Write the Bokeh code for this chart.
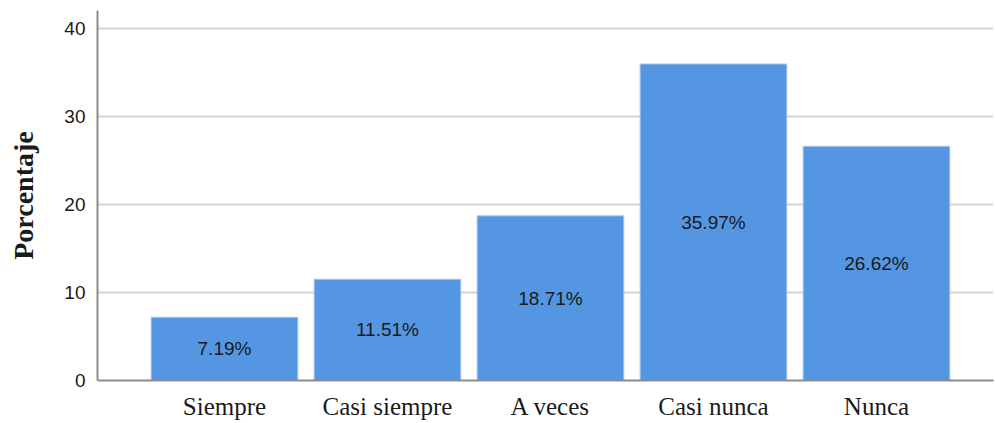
from bokeh.plotting import figure
from bokeh.models import Range1d, FixedTicker, ColumnDataSource, LabelSet
from bokeh.core.properties import value
from bokeh.embed import file_html
from bokeh.resources import INLINE

categories = ["Siempre", "Casi siempre", "A veces", "Casi nunca", "Nunca"]
values = [7.19, 11.51, 18.71, 35.97, 26.62]
labels = ["7.19%", "11.51%", "18.71%", "35.97%", "26.62%"]
y_ticks = [0, 10, 20, 30, 40]

xs = list(range(len(categories)))
src = ColumnDataSource(dict(x=xs, top=values, mid=[v / 2 for v in values], lab=labels))

p = figure(width=995, height=423, output_backend="svg", toolbar_location=None,
           x_range=Range1d(-0.779, 4.718), y_range=Range1d(0, 42.05),
           min_border_left=97, min_border_right=2, min_border_top=10, min_border_bottom=43)
p.outline_line_color = None
p.background_fill_color = "white"

p.vbar(x="x", top="top", width=0.9, source=src, fill_color="#5596e3",
       line_color="#a8c7ef", line_width=1)

p.add_layout(LabelSet(x="x", y="mid", text="lab", source=src, text_align="center",
                      text_baseline="middle", text_font=value("Liberation Sans"),
                      text_font_size="19px", text_color="#1a1a1a"))

p.xaxis.ticker = FixedTicker(ticks=xs)
p.xaxis.major_label_overrides = {i: c for i, c in enumerate(categories)}
p.xaxis.major_label_text_font = "Liberation Serif"
p.xaxis.major_label_text_font_size = "25px"
p.xaxis.major_label_text_color = "#1a1a1a"
p.xaxis.major_tick_line_color = None
p.xaxis.major_tick_out = 0
p.xaxis.major_tick_in = 0
p.xaxis.minor_tick_line_color = None
p.xaxis.major_label_standoff = 12
p.xaxis.axis_line_color = "#8c8c8c"
p.xaxis.axis_line_width = 2
p.xgrid.grid_line_color = None

p.yaxis.ticker = FixedTicker(ticks=y_ticks)
p.yaxis.major_label_text_font = "Liberation Sans"
p.yaxis.major_label_text_font_size = "19px"
p.yaxis.major_label_text_color = "#1a1a1a"
p.yaxis.major_tick_line_color = None
p.yaxis.major_tick_out = 0
p.yaxis.major_tick_in = 0
p.yaxis.minor_tick_line_color = None
p.yaxis.major_label_standoff = 12
p.yaxis.axis_line_color = "#8c8c8c"
p.yaxis.axis_line_width = 2
p.yaxis.axis_label = "Porcentaje"
p.yaxis.axis_label_text_font = "Liberation Serif"
p.yaxis.axis_label_text_font_style = "bold"
p.yaxis.axis_label_text_font_size = "28px"
p.yaxis.axis_label_text_color = "#1a1a1a"
p.yaxis.axis_label_standoff = 22
p.ygrid.grid_line_color = "#d4d4d4"
p.ygrid.grid_line_width = 2

open("out.html", "w").write(file_html(p, INLINE))
